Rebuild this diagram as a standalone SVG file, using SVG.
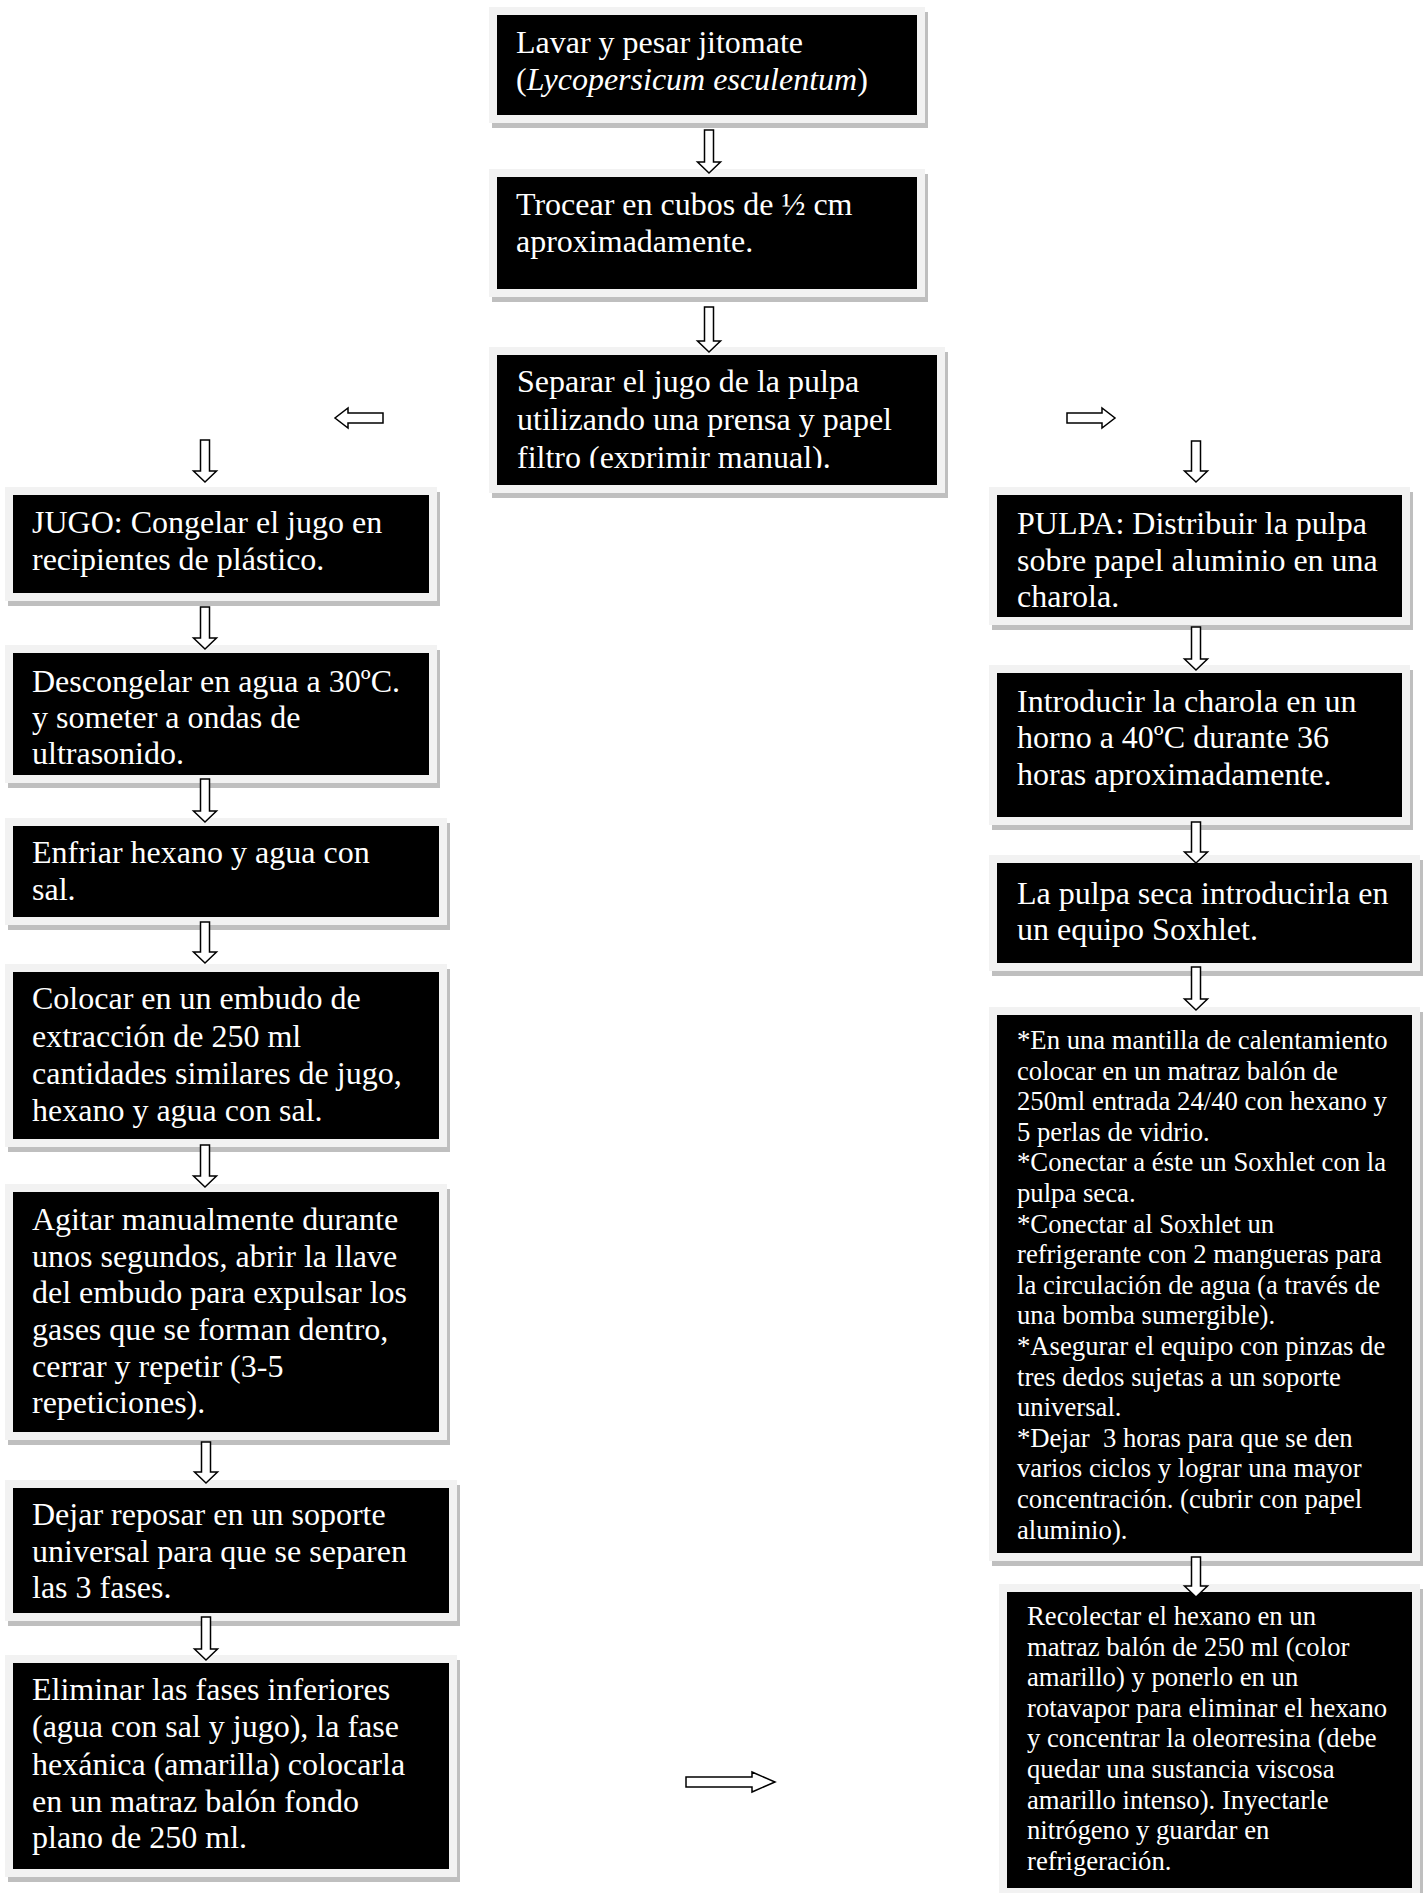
<svg xmlns="http://www.w3.org/2000/svg" width="1425" height="1893" viewBox="0 0 1425 1893">
<style>
.shadow{fill:#bfbfbf}
.frame{fill:#f2f2f2}
.box{fill:#000}
.t{font-family:"Liberation Serif","Times New Roman",serif;font-size:32px;fill:#fff}
.s{font-size:26.7px}
.arrow{fill:#fff;stroke:#000;stroke-width:1.5;stroke-linejoin:miter}
</style>
<defs>
<clipPath id="clipSep"><rect x="497" y="355" width="440" height="113"/></clipPath>
</defs>
<rect width="1425" height="1893" fill="#fff"/>
<g id="nodes">
<g id="n-lavar">
<rect class="shadow" x="492" y="12" width="436" height="116"/>
<rect class="frame" x="489" y="7" width="436" height="116"/>
<rect class="box" x="497" y="15" width="420" height="100"/>
<text class="t" x="516" y="53">Lavar y pesar jitomate</text>
<text class="t" x="516" y="90">(<tspan font-style="italic">Lycopersicum esculentum</tspan>)</text>
</g>
<g id="n-trocear">
<rect class="shadow" x="492" y="174" width="436" height="128"/>
<rect class="frame" x="489" y="169" width="436" height="128"/>
<rect class="box" x="497" y="177" width="420" height="112"/>
<text class="t" x="516" y="215">Trocear en cubos de ½ cm</text>
<text class="t" x="516" y="252">aproximadamente.</text>
</g>
<g id="n-separar">
<rect class="shadow" x="492" y="352" width="456" height="146"/>
<rect class="frame" x="489" y="347" width="456" height="146"/>
<rect class="box" x="497" y="355" width="440" height="130"/>
<g clip-path="url(#clipSep)">
<text class="t" x="517" y="392">Separar el jugo de la pulpa</text>
<text class="t" x="517" y="430">utilizando una prensa y papel</text>
<text class="t" x="517" y="468">filtro (exprimir manual).</text>
</g>
</g>
<g id="n-jugo">
<rect class="shadow" x="8" y="492" width="432" height="114"/>
<rect class="frame" x="5" y="487" width="432" height="114"/>
<rect class="box" x="13" y="495" width="416" height="98"/>
<text class="t" x="32" y="533">JUGO: Congelar el jugo en</text>
<text class="t" x="32" y="570">recipientes de plástico.</text>
</g>
<g id="n-descongelar">
<rect class="shadow" x="8" y="650" width="432" height="138"/>
<rect class="frame" x="5" y="645" width="432" height="138"/>
<rect class="box" x="13" y="653" width="416" height="122"/>
<text class="t" x="32" y="692">Descongelar en agua a 30ºC.</text>
<text class="t" x="32" y="728">y someter a ondas de</text>
<text class="t" x="32" y="764">ultrasonido.</text>
</g>
<g id="n-enfriar">
<rect class="shadow" x="8" y="823" width="442" height="107"/>
<rect class="frame" x="5" y="818" width="442" height="107"/>
<rect class="box" x="13" y="826" width="426" height="91"/>
<text class="t" x="32" y="863">Enfriar hexano y agua con</text>
<text class="t" x="32" y="900">sal.</text>
</g>
<g id="n-colocar">
<rect class="shadow" x="8" y="969" width="442" height="183"/>
<rect class="frame" x="5" y="964" width="442" height="183"/>
<rect class="box" x="13" y="972" width="426" height="167"/>
<text class="t" x="32" y="1009">Colocar en un embudo de</text>
<text class="t" x="32" y="1047">extracción de 250 ml</text>
<text class="t" x="32" y="1084">cantidades similares de jugo,</text>
<text class="t" x="32" y="1121">hexano y agua con sal.</text>
</g>
<g id="n-agitar">
<rect class="shadow" x="8" y="1189" width="442" height="256"/>
<rect class="frame" x="5" y="1184" width="442" height="256"/>
<rect class="box" x="13" y="1192" width="426" height="240"/>
<text class="t" x="32" y="1230">Agitar manualmente durante</text>
<text class="t" x="32" y="1267">unos segundos, abrir la llave</text>
<text class="t" x="32" y="1303">del embudo para expulsar los</text>
<text class="t" x="32" y="1340">gases que se forman dentro,</text>
<text class="t" x="32" y="1377">cerrar y repetir (3-5</text>
<text class="t" x="32" y="1413">repeticiones).</text>
</g>
<g id="n-dejar">
<rect class="shadow" x="8" y="1485" width="452" height="141"/>
<rect class="frame" x="5" y="1480" width="452" height="141"/>
<rect class="box" x="13" y="1488" width="436" height="125"/>
<text class="t" x="32" y="1525">Dejar reposar en un soporte</text>
<text class="t" x="32" y="1562">universal para que se separen</text>
<text class="t" x="32" y="1598">las 3 fases.</text>
</g>
<g id="n-eliminar">
<rect class="shadow" x="8" y="1660" width="452" height="222"/>
<rect class="frame" x="5" y="1655" width="452" height="222"/>
<rect class="box" x="13" y="1663" width="436" height="206"/>
<text class="t" x="32" y="1700">Eliminar las fases inferiores</text>
<text class="t" x="32" y="1737">(agua con sal y jugo), la fase</text>
<text class="t" x="32" y="1775">hexánica (amarilla) colocarla</text>
<text class="t" x="32" y="1812">en un matraz balón fondo</text>
<text class="t" x="32" y="1848">plano de 250 ml.</text>
</g>
<g id="n-pulpa">
<rect class="shadow" x="992" y="492" width="421" height="138"/>
<rect class="frame" x="989" y="487" width="421" height="138"/>
<rect class="box" x="997" y="495" width="405" height="122"/>
<text class="t" x="1017" y="534">PULPA: Distribuir la pulpa</text>
<text class="t" x="1017" y="571">sobre papel aluminio en una</text>
<text class="t" x="1017" y="607">charola.</text>
</g>
<g id="n-introducir">
<rect class="shadow" x="992" y="670" width="421" height="160"/>
<rect class="frame" x="989" y="665" width="421" height="160"/>
<rect class="box" x="997" y="673" width="405" height="144"/>
<text class="t" x="1017" y="712">Introducir la charola en un</text>
<text class="t" x="1017" y="748">horno a 40ºC durante 36</text>
<text class="t" x="1017" y="785">horas aproximadamente.</text>
</g>
<g id="n-soxhlet">
<rect class="shadow" x="992" y="860" width="431" height="116"/>
<rect class="frame" x="989" y="855" width="431" height="116"/>
<rect class="box" x="997" y="863" width="415" height="100"/>
<text class="t" x="1017" y="904">La pulpa seca introducirla en</text>
<text class="t" x="1017" y="940">un equipo Soxhlet.</text>
</g>
<g id="n-extraccion">
<rect class="shadow" x="992" y="1012" width="431" height="554"/>
<rect class="frame" x="989" y="1007" width="431" height="554"/>
<rect class="box" x="997" y="1015" width="415" height="538"/>
<text class="t s" x="1017" y="1049">*En una mantilla de calentamiento</text>
<text class="t s" x="1017" y="1079.6">colocar en un matraz balón de</text>
<text class="t s" x="1017" y="1110.2">250ml entrada 24/40 con hexano y</text>
<text class="t s" x="1017" y="1140.8">5 perlas de vidrio.</text>
<text class="t s" x="1017" y="1171.4">*Conectar a éste un Soxhlet con la</text>
<text class="t s" x="1017" y="1202">pulpa seca.</text>
<text class="t s" x="1017" y="1232.6">*Conectar al Soxhlet un</text>
<text class="t s" x="1017" y="1263.2">refrigerante con 2 mangueras para</text>
<text class="t s" x="1017" y="1293.8">la circulación de agua (a través de</text>
<text class="t s" x="1017" y="1324.4">una bomba sumergible).</text>
<text class="t s" x="1017" y="1355">*Asegurar el equipo con pinzas de</text>
<text class="t s" x="1017" y="1385.6">tres dedos sujetas a un soporte</text>
<text class="t s" x="1017" y="1416.2">universal.</text>
<text class="t s" x="1017" y="1446.8" xml:space="preserve">*Dejar  3 horas para que se den</text>
<text class="t s" x="1017" y="1477.4">varios ciclos y lograr una mayor</text>
<text class="t s" x="1017" y="1508">concentración. (cubrir con papel</text>
<text class="t s" x="1017" y="1538.6">aluminio).</text>
</g>
<g id="n-recolectar">
<rect class="shadow" x="1002" y="1589" width="421" height="312"/>
<rect class="frame" x="999" y="1584" width="421" height="312"/>
<rect class="box" x="1007" y="1592" width="405" height="296"/>
<text class="t s" x="1027" y="1625">Recolectar el hexano en un</text>
<text class="t s" x="1027" y="1655.6">matraz balón de 250 ml (color</text>
<text class="t s" x="1027" y="1686.2">amarillo) y ponerlo en un</text>
<text class="t s" x="1027" y="1716.8">rotavapor para eliminar el hexano</text>
<text class="t s" x="1027" y="1747.4">y concentrar la oleorresina (debe</text>
<text class="t s" x="1027" y="1778">quedar una sustancia viscosa</text>
<text class="t s" x="1027" y="1808.6">amarillo intenso). Inyectarle</text>
<text class="t s" x="1027" y="1839.2">nitrógeno y guardar en</text>
<text class="t s" x="1027" y="1869.8">refrigeración.</text>
</g>
</g>
<g id="connectors">
<path class="arrow" d="M704.5,130 H713.5 V162 H720.5 L709,173 L697.5,162 H704.5 Z"/>
<path class="arrow" d="M704.5,307 H713.5 V341 H720.5 L709,352 L697.5,341 H704.5 Z"/>
<path class="arrow" d="M383,413 V423 H348 V428 L335,418 L348,408 V413 Z"/>
<path class="arrow" d="M1067,413 V423 H1102 V428 L1115,418 L1102,408 V413 Z"/>
<path class="arrow" d="M200.5,440 H209.5 V471 H216.5 L205,482 L193.5,471 H200.5 Z"/>
<path class="arrow" d="M200.5,607 H209.5 V638 H216.5 L205,649 L193.5,638 H200.5 Z"/>
<path class="arrow" d="M200.5,779 H209.5 V811 H216.5 L205,822 L193.5,811 H200.5 Z"/>
<path class="arrow" d="M200.5,922 H209.5 V952 H216.5 L205,963 L193.5,952 H200.5 Z"/>
<path class="arrow" d="M200.5,1145 H209.5 V1176 H216.5 L205,1187 L193.5,1176 H200.5 Z"/>
<path class="arrow" d="M201.5,1442 H210.5 V1472 H217.5 L206,1483 L194.5,1472 H201.5 Z"/>
<path class="arrow" d="M201.5,1617 H210.5 V1649 H217.5 L206,1660 L194.5,1649 H201.5 Z"/>
<path class="arrow" d="M1191.5,441 H1200.5 V471 H1207.5 L1196,482 L1184.5,471 H1191.5 Z"/>
<path class="arrow" d="M1191.5,627 H1200.5 V659 H1207.5 L1196,670 L1184.5,659 H1191.5 Z"/>
<path class="arrow" d="M1191.5,822 H1200.5 V852 H1207.5 L1196,863 L1184.5,852 H1191.5 Z"/>
<path class="arrow" d="M1191.5,967 H1200.5 V999 H1207.5 L1196,1010 L1184.5,999 H1191.5 Z"/>
<path class="arrow" d="M1191.5,1557 H1200.5 V1586 H1207.5 L1196,1597 L1184.5,1586 H1191.5 Z"/>
<path class="arrow" d="M686,1777 V1787 H752 V1792 L775,1782 L752,1772 V1777 Z"/>
</g>
</svg>
